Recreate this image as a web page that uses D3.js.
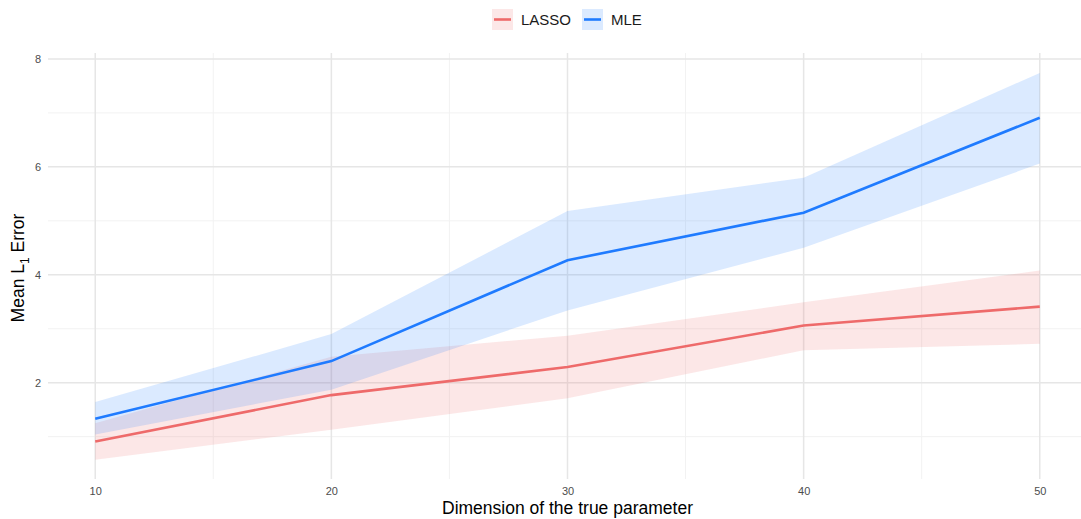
<!DOCTYPE html>
<meta charset="utf-8">
<style>
    body{ margin:0; background:#fff; }
    svg{ display:block; font-family:"Liberation Sans", Arial, sans-serif; }
    .tick text{ fill:#4d4d4d; font-size:11px; }
</style>
<body>
<svg id="chart" width="1081" height="519"></svg>
</body>
<script src="https://d3js.org/d3.v7.min.js"></script>
<script>
// data
var dims = [10, 20, 30, 40, 50];
var lassoMean  = [0.91, 1.77, 2.29, 3.06, 3.41];
var lassoLower = [0.57, 1.13, 1.71, 2.60, 2.72];
var lassoUpper = [1.25, 2.48, 2.87, 3.49, 4.08];
var mleMean  = [1.33, 2.40, 4.27, 5.15, 6.91];
var mleLower = [1.04, 1.87, 3.34, 4.50, 6.06];
var mleUpper = [1.64, 2.90, 5.18, 5.80, 7.74];
var xTicks = [10, 20, 30, 40, 50];
var yTicks = [2, 4, 6, 8];
var seriesNames = ["LASSO", "MLE"];

var colors = {LASSO: "#ee6a6a", MLE: "#1f7bff"};

function build(mean, lo, hi){
    var out = [];
    for(let i=0; i<dims.length; i++){
        out.push({x: dims[i], y: mean[i], lo: lo[i], hi: hi[i]});
    }
    return out;
}
var series = [
    {name: "LASSO", values: build(lassoMean, lassoLower, lassoUpper)},
    {name: "MLE", values: build(mleMean, mleLower, mleUpper)}
];

var svg = d3.select("#chart");
var padL = 48, padR = 1087, padT = 53, padB = 479;

var x = d3.scaleLinear().domain([8, 52]).range([padL, padR]);
var y = d3.scaleLinear().domain([0.215, 8.11]).range([padB, padT]);

// grid
var grid = svg.append("g");
[15, 25, 35, 45].forEach(function(v){
    grid.append("line").attr("x1", x(v)).attr("x2", x(v)).attr("y1", padT).attr("y2", padB)
        .attr("stroke", "#f2f2f2").attr("stroke-width", 1);
});
[1, 3, 5, 7].forEach(function(v){
    grid.append("line").attr("x1", padL).attr("x2", 1081).attr("y1", y(v)).attr("y2", y(v))
        .attr("stroke", "#f2f2f2").attr("stroke-width", 1);
});
xTicks.forEach(function(v){
    grid.append("line").attr("x1", x(v)).attr("x2", x(v)).attr("y1", padT).attr("y2", padB)
        .attr("stroke", "#e6e6e6").attr("stroke-width", 1.5);
});
yTicks.forEach(function(v){
    grid.append("line").attr("x1", padL).attr("x2", 1081).attr("y1", y(v)).attr("y2", y(v))
        .attr("stroke", "#e6e6e6").attr("stroke-width", 1.5);
});

// ribbons
var area = d3.area()
    .x(function(d){ return x(d.x); })
    .y0(function(d){ return y(d.lo); })
    .y1(function(d){ return y(d.hi); });
series.forEach(function(s){
    svg.append("path").datum(s.values)
        .attr("d", area)
        .attr("fill", colors[s.name])
        .attr("fill-opacity", 0.16);
});

// lines
var line = d3.line()
    .x(function(d){ return x(d.x); })
    .y(function(d){ return y(d.y); });
series.forEach(function(s){
    svg.append("path").datum(s.values)
        .attr("d", line)
        .attr("fill", "none")
        .attr("stroke", colors[s.name])
        .attr("stroke-width", 2.6);
});

// axes (no domain, no ticks)
var xAxis = svg.append("g")
    .attr("transform", "translate(0," + (padB + 4) + ")")
    .call(d3.axisBottom(x).tickValues(xTicks).tickSize(0).tickPadding(4));
xAxis.select(".domain").remove();

var yAxis = svg.append("g")
    .attr("transform", "translate(" + (padL - 5) + ",0)")
    .call(d3.axisLeft(y).tickValues(yTicks).tickSize(0).tickPadding(2));
yAxis.select(".domain").remove();
svg.selectAll(".tick text").attr("font-family", "Liberation Sans, Arial, sans-serif");

// axis titles
svg.append("text")
    .attr("x", (padL + padR) / 2).attr("y", 514)
    .attr("text-anchor", "middle")
    .attr("font-size", 17.5)
    .attr("fill", "#000")
    .text("Dimension of the true parameter");

var yt = svg.append("text")
    .attr("transform", "translate(24,268) rotate(-90)")
    .attr("text-anchor", "middle")
    .attr("font-size", 17.5)
    .attr("fill", "#000");
yt.append("tspan").text("Mean L");
yt.append("tspan").attr("font-size", 12).attr("dy", 5).text("1");
yt.append("tspan").attr("dy", -5).text(" Error");

// legend
var legend = svg.append("g");
var legendX = [492, 582];
seriesNames.forEach(function(name, i){
    var g = legend.append("g").attr("transform", "translate(" + legendX[i] + ",9)");
    g.append("rect").attr("width", 21).attr("height", 21)
        .attr("fill", colors[name]).attr("fill-opacity", 0.16);
    g.append("line").attr("x1", 2).attr("x2", 19).attr("y1", 10.5).attr("y2", 10.5)
        .attr("stroke", colors[name]).attr("stroke-width", 2.6);
    g.append("text").attr("x", 29).attr("y", 16).attr("font-size", 15)
        .attr("fill", "#1a1a1a").text(name);
});
</script>
